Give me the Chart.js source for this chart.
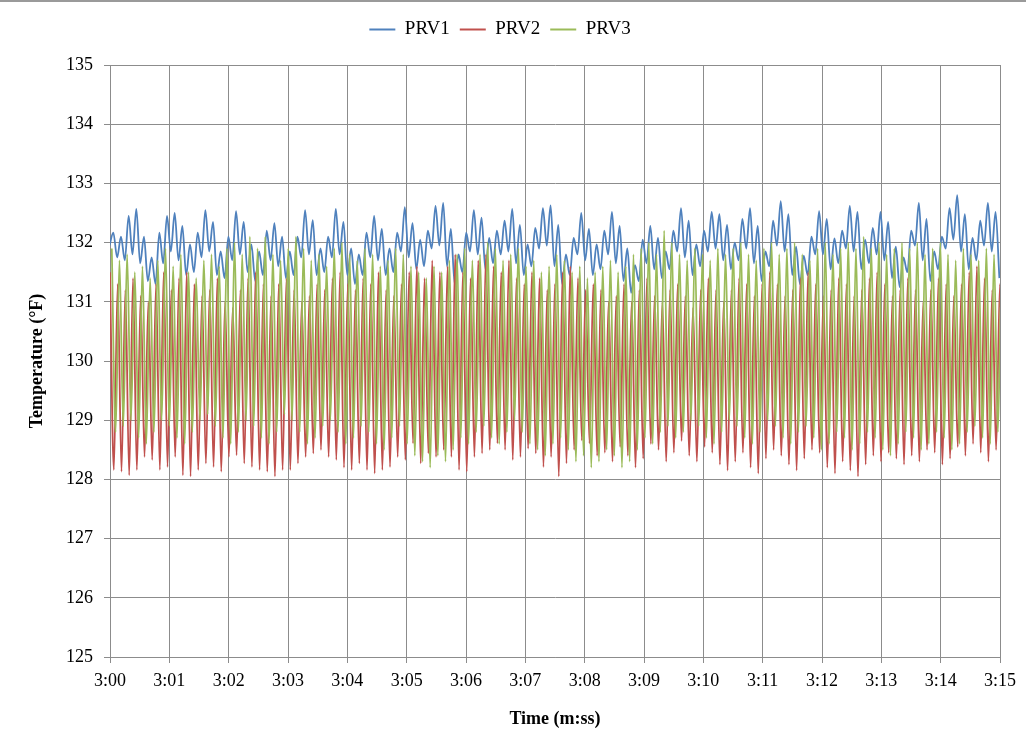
<!DOCTYPE html>
<html>
<head>
<meta charset="utf-8">
<script src="https://cdn.jsdelivr.net/npm/chart.js@4.4.1/dist/chart.umd.min.js"></script>
<style>
html,body{margin:0;padding:0;background:#fff;}
#wrap{position:relative;width:1026px;height:750px;}
#topline{position:absolute;left:0;top:0;width:1026px;height:2px;background:#9a9a9a;}
</style>
</head>
<body>
<div id="wrap"><div id="topline"></div><canvas id="c" width="1026" height="750"></canvas></div>
<script>
// Tick labels
const xTickLabels = ['3:00','3:01','3:02','3:03','3:04','3:05','3:06','3:07','3:08','3:09','3:10','3:11','3:12','3:13','3:14','3:15'];
const yTickLabels = ['125','126','127','128','129','130','131','132','133','134','135'];
const seriesNames = ['PRV1','PRV2','PRV3'];

// Sampling: each value is one half-cycle extreme (peak / trough), seconds after 3:00
const sampleStep = 0.06465;
const prv1Start = -0.009;
const prv2Start = 0.0;
const prv3Start = 0.03;

// PRV1 (°F)
const prv1 = [
131.95,
132.17,131.75,132.10,131.70,132.45,131.80,132.57,131.65,132.10,131.35,131.75,131.30,132.17,131.65,132.45,131.85,132.50,131.70,132.28,131.45,131.97,131.50,132.17,131.75,132.55,131.85,132.35,131.45,131.85,131.40,132.10,131.70,132.53,131.80,132.35,131.50,131.97,131.35,131.85,131.45,132.20,131.70,132.33,131.60,132.10,131.40,131.85,131.45,132.10,131.75,132.55,131.80,132.38,131.45,131.90,131.50,132.10,131.75,132.57,131.80,132.35,
131.45,131.90,131.30,131.80,131.45,132.17,131.75,132.45,131.70,132.23,131.45,131.90,131.50,132.17,131.85,132.60,131.75,132.33,131.55,132.05,131.60,132.20,131.90,132.62,131.95,132.67,131.60,132.23,131.30,131.80,131.50,132.17,131.85,132.55,131.80,132.42,131.55,132.08,131.65,132.20,131.80,132.37,131.85,132.57,131.65,132.30,131.45,131.97,131.60,132.25,131.90,132.58,131.95,132.63,131.60,132.30,131.30,131.80,131.45,132.08,131.80,132.50,
131.70,132.23,131.45,131.97,131.55,132.20,131.80,132.52,131.65,132.28,131.35,131.90,131.15,131.62,131.35,132.05,131.65,132.28,131.55,132.08,131.40,131.85,131.55,132.20,131.85,132.58,131.75,132.37,131.45,131.97,131.60,132.20,131.85,132.52,131.90,132.48,131.70,132.30,131.55,132.00,131.70,132.40,131.90,132.58,131.65,132.28,131.35,131.85,131.60,132.37,131.95,132.70,131.85,132.48,
131.45,131.93,131.30,131.78,131.45,132.10,131.80,132.53,131.80,132.40,131.55,132.07,131.65,132.20,131.90,132.62,131.85,132.52,131.55,132.05,131.65,132.25,131.80,132.52,131.70,132.35,131.40,131.93,131.25,131.75,131.50,132.20,131.95,132.67,131.70,132.40,131.35,131.85,131.55,132.10,131.90,132.58,132.05,132.80,131.85,132.48,131.55,132.08,131.70,132.37,131.95,132.67,131.85,132.52,131.40
];

// PRV2 (°F)
const prv2 = [
131.5,128.16,131.3,128.13,131.2,128.07,131.4,128.16,131.1,128.38,131.0,128.33,131.3,128.16,131.5,128.21,
131.2,128.38,131.4,128.07,131.5,128.05,131.3,128.16,131.1,128.27,131.2,128.21,131.4,128.13,131.0,128.38,
130.9,128.41,131.2,128.27,131.4,128.21,131.5,128.16,131.3,128.13,131.1,128.05,131.3,128.16,131.4,128.16,
131.2,128.27,131.0,128.38,131.1,128.44,131.3,128.50,131.2,128.38,131.4,128.33,131.5,128.20,131.3,128.16,
131.2,128.27,131.4,128.16,131.3,128.10,131.5,128.16,131.2,128.21,131.1,128.38,131.3,128.33,131.5,128.61,
131.6,128.27,131.4,128.44,131.7,128.38,131.5,128.50,131.6,128.38,131.8,128.16,131.5,128.13,131.4,128.38,
131.7,128.44,131.8,128.50,131.6,128.61,131.5,128.50,131.7,128.33,131.4,128.38,131.3,128.52,131.5,128.44,
131.4,128.21,131.2,128.38,131.3,128.05,131.5,128.27,131.6,128.50,131.4,128.66,131.2,128.61,131.3,128.40,
131.2,128.45,131.0,128.30,131.1,128.55,131.3,128.40,131.0,128.20,131.2,128.35,131.4,128.60,131.1,128.50,
131.0,128.30,131.2,128.45,131.3,128.65,131.1,128.40,130.9,128.30,131.2,128.55,131.4,128.45,131.2,128.25,
131.0,128.15,131.2,128.30,131.4,128.45,131.3,128.20,131.1,128.10,131.3,128.35,131.5,128.50,131.3,128.40,
131.1,128.25,131.2,128.15,131.4,128.35,131.5,128.50,131.3,128.45,131.1,128.20,131.2,128.10,131.4,128.30,
131.3,128.15,131.1,128.05,131.2,128.25,131.4,128.40,131.5,128.30,131.3,128.45,131.1,128.35,131.2,128.25,
131.4,128.40,131.2,128.30,131.0,128.50,131.2,128.45,131.4,128.25,131.3,128.35,131.1,128.55,131.3,128.40,
131.5,128.60,131.6,128.45,131.4,128.30,131.2,128.50,131.3,128.80,131.2
];

// PRV3 (°F)
const prv3 = [
131.9,128.8,131.7,128.9,131.8,129.0,131.5,128.7,131.6,128.6,131.4,128.8,131.7,129.0,131.9,128.9,
131.6,128.7,131.8,128.6,131.5,128.8,131.4,129.0,131.7,129.1,131.8,128.9,131.6,128.7,131.9,128.6,
132.0,128.8,131.8,129.0,132.1,128.9,131.9,128.7,132.1,128.6,131.8,128.8,131.7,129.1,131.9,129.0,
132.1,128.8,131.9,128.6,131.7,128.7,131.8,128.9,131.6,129.0,131.9,128.8,132.0,128.6,131.8,128.7,
131.7,128.9,131.9,128.8,131.8,128.6,131.6,128.5,131.7,128.7,131.9,128.9,131.8,128.6,131.6,128.4,
131.5,128.3,131.4,128.2,131.6,128.4,131.5,128.3,131.7,128.5,131.8,128.7,131.9,128.6,131.7,128.8,
131.8,128.9,132.0,128.7,131.9,128.6,131.7,128.8,131.8,129.0,131.9,128.8,131.6,128.6,131.7,128.5,
131.5,128.4,131.6,128.6,131.8,128.7,131.7,128.5,131.5,128.3,131.6,128.4,131.4,128.2,131.5,128.3,
131.6,128.5,131.7,128.4,131.5,128.2,131.6,128.3,131.8,128.5,131.9,128.7,132.0,128.6,131.8,128.8,
132.2,128.9,132.0,128.7,131.8,128.8,131.7,129.0,131.9,128.9,131.8,128.7,131.7,128.6,131.9,128.8,
131.8,129.0,131.9,128.9,132.0,128.7,131.8,128.6,131.7,128.8,131.9,129.0,132.0,128.9,131.8,128.7,
131.9,128.6,132.0,128.8,131.8,128.9,131.7,128.7,131.9,128.5,132.0,128.6,131.8,128.8,131.9,128.7,
132.0,128.5,131.9,128.6,132.1,128.8,131.9,128.7,132.0,128.5,131.8,128.4,131.9,128.6,132.0,128.8,
131.9,128.7,132.0,128.5,131.8,128.6,131.9,128.8,132.0,128.7,131.8,128.5,131.7,128.6,131.9,128.8,
131.8,128.9,131.7,128.7,131.9,128.6,131.8,128.8,131.6,128.9,131.7
];

function toPoints(vals, start){
  return vals.map((v,i)=>({x: start + i*sampleStep, y: v}));
}

const serif = '"Liberation Serif", "Times New Roman", serif';
const gridColor = '#8c8c8c';

// add extra space below the legend
const legendGap = {
  id:'legendGap',
  beforeInit(chart){
    const fit = chart.legend.fit;
    chart.legend.fit = function(){
      fit.bind(chart.legend)();
      this.height += 16;
    };
  }
};

new Chart(document.getElementById('c').getContext('2d'), {
  type: 'line',
  plugins:[legendGap],
  data: {
    datasets: [
      {label: seriesNames[0], data: toPoints(prv1, prv1Start), borderColor:'#4F81BD', backgroundColor:'#4F81BD', order:3},
      {label: seriesNames[1], data: toPoints(prv2, prv2Start), borderColor:'#C0504D', backgroundColor:'#C0504D', order:2},
      {label: seriesNames[2], data: toPoints(prv3, prv3Start), borderColor:'#9BBB59', backgroundColor:'#9BBB59', order:1}
    ]
  },
  options: {
    responsive:false,
    animation:false,
    parsing:false,
    elements:{
      point:{radius:0},
      line:{borderWidth:1.8, cubicInterpolationMode:'monotone'}
    },
    layout:{padding:{top:10, right:26, left:0, bottom:0}},
    scales:{
      x:{
        type:'linear', min:0, max:15,
        afterFit: s => { s.height = 93; },
        ticks:{stepSize:1, autoSkip:false, maxRotation:0, padding:7, color:'#000',
          font:{family:serif, size:18},
          callback:(v,i)=>xTickLabels[i]},
        grid:{color:gridColor, tickLength:6, lineWidth:1},
        border:{color:gridColor},
        title:{display:true, text:'Time (m:ss)', color:'#000', font:{family:serif, size:18, weight:'bold'}, padding:{top:10, bottom:20}}
      },
      y:{
        min:125, max:135,
        afterFit: s => { s.width = 110; },
        ticks:{stepSize:1, padding:11, color:'#000', font:{family:serif, size:18},
          callback:(v,i)=>yTickLabels[i]},
        grid:{color:gridColor, tickLength:6, lineWidth:1},
        border:{color:gridColor},
        title:{display:true, text:'Temperature (°F)', color:'#000', font:{family:serif, size:18, weight:'bold'}, padding:{top:27, bottom:0}}
      }
    },
    plugins:{
      tooltip:{enabled:false},
      legend:{
        position:'top',
        labels:{
          boxWidth:26, boxHeight:2, padding:10, color:'#000',
          font:{family:serif, size:19},
          sort:(a,b)=>a.datasetIndex-b.datasetIndex,
          generateLabels:(chart)=>{
            const items = Chart.defaults.plugins.legend.labels.generateLabels(chart);
            items.forEach(it => { it.lineWidth = 0; it.fillStyle = chart.data.datasets[it.datasetIndex].borderColor; });
            return items;
          }
        }
      }
    }
  }
});
</script>
</body>
</html>
